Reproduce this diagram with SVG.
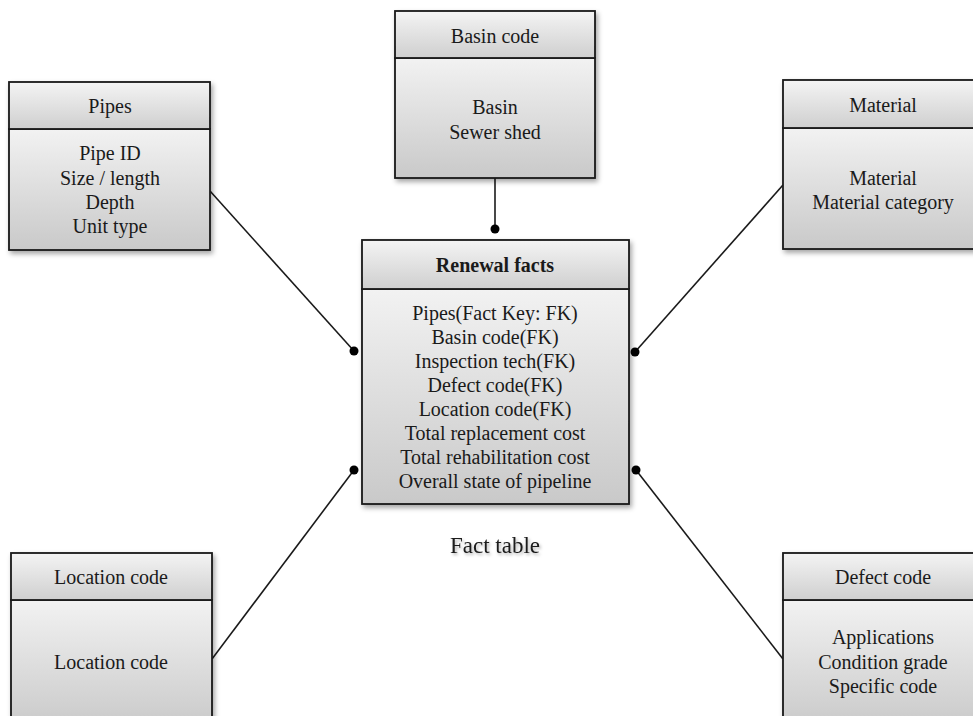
<svg xmlns="http://www.w3.org/2000/svg" width="973" height="716" viewBox="0 0 973 716">
<defs>
<linearGradient id="gh" x1="0" y1="0" x2="0" y2="1"><stop offset="0" stop-color="#f4f4f4"/><stop offset="1" stop-color="#cfcfcf"/></linearGradient>
<linearGradient id="gb" x1="0" y1="0" x2="0" y2="1"><stop offset="0" stop-color="#f2f2f2"/><stop offset="1" stop-color="#c9c9c9"/></linearGradient>
<filter id="sh" x="-10%" y="-10%" width="130%" height="130%"><feDropShadow dx="2" dy="3" stdDeviation="2.5" flood-color="#000" flood-opacity="0.35"/></filter>
<filter id="tsh" x="-10%" y="-30%" width="130%" height="160%"><feDropShadow dx="1.5" dy="2" stdDeviation="1.5" flood-color="#000" flood-opacity="0.3"/></filter>
</defs>
<style>
.hd{fill:url(#gh);stroke:#1a1a1a;stroke-width:1.8}
.bd{fill:url(#gb);stroke:#1a1a1a;stroke-width:1.8}
text{font-family:"Liberation Serif","Times New Roman",serif;font-size:20px;fill:#1a1a1a;text-anchor:middle}
.b{font-weight:bold}
.ft{font-size:23px}
.ln{stroke:#1a1a1a;stroke-width:1.6;fill:none}
.dot{fill:#000}
</style>

<g id="connectors">
<line class="ln" x1="495" y1="178" x2="495" y2="229"/>
<circle class="dot" cx="495" cy="229" r="4.5"/>
<line class="ln" x1="210" y1="191" x2="354" y2="351"/>
<circle class="dot" cx="354" cy="351" r="4.5"/>
<line class="ln" x1="783" y1="185" x2="635" y2="352"/>
<circle class="dot" cx="635" cy="352" r="4.5"/>
<line class="ln" x1="212" y1="659" x2="354" y2="470"/>
<circle class="dot" cx="354" cy="470" r="4.5"/>
<line class="ln" x1="783" y1="659" x2="636" y2="470"/>
<circle class="dot" cx="636" cy="470" r="4.5"/>
</g>

<g id="pipes">
<g filter="url(#sh)">
<rect class="bd" x="9" y="129" width="201" height="121"/>
<rect class="hd" x="9" y="82" width="201" height="47"/>
</g>
<text x="110" y="113">Pipes</text>
<text x="110" y="160">Pipe ID</text>
<text x="110" y="185">Size / length</text>
<text x="110" y="209">Depth</text>
<text x="110" y="233">Unit type</text>
</g>

<g id="basin-code">
<g filter="url(#sh)">
<rect class="bd" x="395" y="58" width="200" height="120"/>
<rect class="hd" x="395" y="11" width="200" height="47"/>
</g>
<text x="495" y="43">Basin code</text>
<text x="495" y="114">Basin</text>
<text x="495" y="139">Sewer shed</text>
</g>

<g id="material">
<g filter="url(#sh)">
<rect class="bd" x="783" y="128" width="200" height="121"/>
<rect class="hd" x="783" y="80" width="200" height="48"/>
</g>
<text x="883" y="112">Material</text>
<text x="883" y="185">Material</text>
<text x="883" y="209">Material category</text>
</g>

<g id="renewal-facts">
<g filter="url(#sh)">
<rect class="bd" x="362" y="289" width="267" height="215"/>
<rect class="hd" x="362" y="240" width="267" height="49"/>
</g>
<text class="b" x="495" y="272">Renewal facts</text>
<text x="495" y="320">Pipes(Fact Key: FK)</text>
<text x="495" y="344">Basin code(FK)</text>
<text x="495" y="368">Inspection tech(FK)</text>
<text x="495" y="392">Defect code(FK)</text>
<text x="495" y="416">Location code(FK)</text>
<text x="495" y="440">Total replacement cost</text>
<text x="495" y="464">Total rehabilitation cost</text>
<text x="495" y="488">Overall state of pipeline</text>
</g>

<g id="fact-table-label">
<text class="ft" x="495" y="553" filter="url(#tsh)">Fact table</text>
</g>

<g id="location-code">
<g filter="url(#sh)">
<rect class="bd" x="11" y="600" width="201" height="130"/>
<rect class="hd" x="11" y="553" width="201" height="47"/>
</g>
<text x="111" y="584">Location code</text>
<text x="111" y="669">Location code</text>
</g>

<g id="defect-code">
<g filter="url(#sh)">
<rect class="bd" x="783" y="600" width="200" height="130"/>
<rect class="hd" x="783" y="553" width="200" height="47"/>
</g>
<text x="883" y="584">Defect code</text>
<text x="883" y="644">Applications</text>
<text x="883" y="669">Condition grade</text>
<text x="883" y="693">Specific code</text>
</g>
</svg>
